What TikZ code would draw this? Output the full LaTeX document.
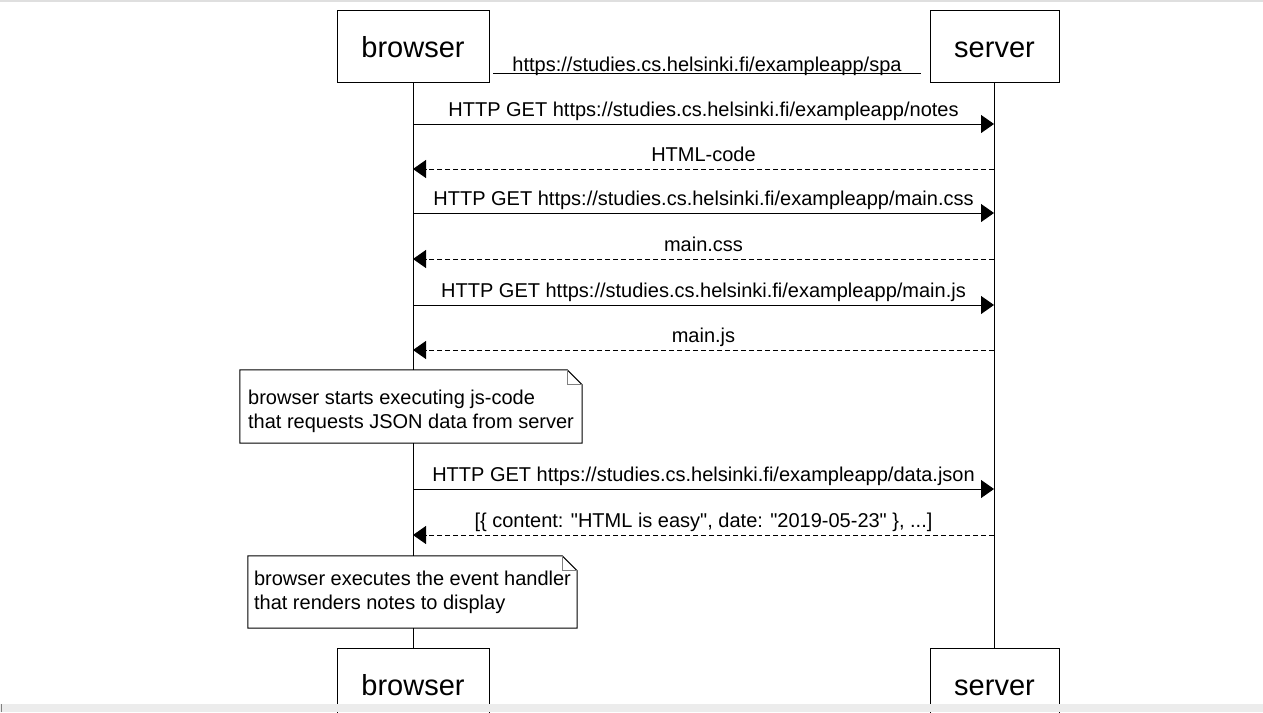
\documentclass[tikz,border=0pt]{standalone}
\usepackage{fontspec}
\setmainfont{Liberation Sans}
\usetikzlibrary{arrows.meta}
\newcommand\dogear[1]{%
  \draw[line width=1pt] (#1.north west) -- ([xshift=-15pt]#1.north east) -- ([yshift=-15pt]#1.north east) -- (#1.south east) -- (#1.south west) -- cycle;
  \draw[line width=1pt, gray] ([xshift=-15pt]#1.north east) |- ([yshift=-15pt]#1.north east);}
\begin{document}
\begin{tikzpicture}[x=1pt,y=-1pt,
  actor/.style={draw, line width=1pt, fill=white, minimum width=#1, minimum height=72pt, inner sep=0pt, text height=25pt, text depth=3pt, font=\fontsize{29}{34}\selectfont},
  life/.style={line width=1pt},
  msg/.style={line width=1pt, -{Triangle[length=13pt,width=18pt]}},
  reply/.style={msg, dash pattern=on 5pt off 3pt},
  lbl/.style={midway, anchor=base, yshift=8pt, font=\fontsize{20}{24}\selectfont, inner sep=0pt},
  notebox/.style={fill=white, inner sep=0pt, align=left, font=\fontsize{20}{24}\selectfont}
]
\useasboundingbox (0,0) rectangle (1263,712);
\clip (0,0) rectangle (1263,712);
\fill[white] (0,0) rectangle (1263,712);
\draw[gray!25, line width=1.2pt] (0,1) -- (1263,1);

% actors
\node[actor=152] (bt) at (413,46) {browser};
\node[actor=129] (st) at (994.5,46) {server};
\node[actor=152] (bb) at (413,684) {browser};
\node[actor=129] (sb) at (994.5,684) {server};

% lifelines
\draw[life] (bt.south) -- (bb.north);
\draw[life] (st.south -| 994,0) -- (sb.north -| 994,0);

% spa title line
\coordinate (sa) at (493,73);
\coordinate (sz) at (921,73);
\draw[line width=1pt] (sa) -- (sz) node[midway, anchor=base, yshift=2pt, inner sep=0pt, font=\fontsize{20}{24}\selectfont] {https://studies.cs.helsinki.fi/exampleapp/spa};

% messages
\draw[msg]   (bt |- 0,124) -- (994,124) node[lbl] {HTTP GET https://studies.cs.helsinki.fi/exampleapp/notes};
\draw[reply] (994,169) -- (bt |- 0,169) node[lbl] {HTML-code};
\draw[msg]   (bt |- 0,213) -- (994,213) node[lbl] {HTTP GET https://studies.cs.helsinki.fi/exampleapp/main.css};
\draw[reply] (994,259) -- (bt |- 0,259) node[lbl] {main.css};
\draw[msg]   (bt |- 0,305) -- (994,305) node[lbl] {HTTP GET https://studies.cs.helsinki.fi/exampleapp/main.js};
\draw[reply] (994,350) -- (bt |- 0,350) node[lbl] {main.js};

% note 1
\node[notebox, minimum width=342pt, minimum height=73pt, text height=47.5pt] (n1) at (411,406.5) {browser starts executing js-code\\that requests JSON data from server};
\dogear{n1}

\draw[msg]   (bt |- 0,489) -- (994,489) node[lbl] {HTTP GET https://studies.cs.helsinki.fi/exampleapp/data.json};
\draw[reply] (994,535) -- (bt |- 0,535) node[lbl] {[\{ content: \textquotedbl HTML is easy\textquotedbl, date: \textquotedbl 2019-05-23\textquotedbl\ \}, ...]};

% note 2
\node[notebox, minimum width=329pt, minimum height=72pt] (n2) at (412.5,592) {browser executes the event handler\\that renders notes to display};
\dogear{n2}

% bottom band
\fill[gray!15] (0,704) rectangle (1263,712);
\draw[gray, line width=1.5pt] (1.5,704) -- (1.5,712);
\end{tikzpicture}
\end{document}
